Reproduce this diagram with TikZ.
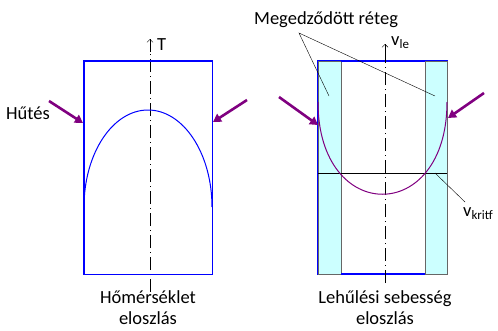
\documentclass[tikz,border=0pt]{standalone}
\usepackage{fontspec}
\setmainfont{Carlito}
\usetikzlibrary{arrows.meta}
\definecolor{hot}{RGB}{128,0,128}
\definecolor{layer}{RGB}{204,255,255}
\begin{document}
\begin{tikzpicture}[x=1pt,y=-1pt,
  lbl/.style={font=\fontsize{18.5}{21}\selectfont, inner sep=0pt},
  axisline/.style={black, thin, dash pattern=on 13pt off 4pt on 1pt off 4pt},
  coolarrow/.style={hot, line width=2.6pt, -{Triangle[length=8pt,width=9pt]}},
  body/.style={draw=blue, line width=1.3pt},
  strip/.style={fill=layer, draw=black!60, line width=0.8pt}]
\useasboundingbox (0,0) rectangle (498,330);
% ---------- left: temperature ----------
\node[draw=none, minimum width=128pt, minimum height=213pt, anchor=north west, inner sep=0pt] (L) at (84,61) {};
\coordinate (Lbot) at (150,292);
\coordinate (Ltop) at (150,39);
\draw[axisline] (Lbot) -- (150,49);
\draw[black, thin, -{Straight Barb[length=3pt]}] (150,52) -- (Ltop);
\draw[body] (L.north west) rectangle (L.south east);
\draw[blue, line width=1pt] (84,207) arc[start angle=180, end angle=0, x radius=64pt, y radius=97pt];
\node[lbl, anchor=west] (T) at (157,45) {T};
\node[lbl, anchor=west] (hut) at (6,113) {Hűtés};
\coordinate (la1) at (49,101);
\coordinate (la2) at (83,123);
\coordinate (ra1) at (247,100);
\coordinate (ra2) at (213,122);
\draw[coolarrow] (la1) -- (la2);
\draw[coolarrow] (ra1) -- (ra2);
\node[lbl, align=center, anchor=north] (Ltxt) at (148,290) {Hőmérséklet\\eloszlás};
% ---------- right: cooling rate ----------
\node[draw=none, minimum width=129pt, minimum height=213pt, anchor=north west, inner sep=0pt] (R) at (318,61) {};
\draw[blue, line width=1.3pt] (R.north west) rectangle (R.south east);
\draw[strip] (318,61) rectangle (341,274);
\draw[strip] (425,61) rectangle (447,274);
\draw[blue, line width=1.3pt] (341,61) -- (425,61) (341,274) -- (425,274);
\draw[axisline] (385,283) -- (385,54);
\draw[black, thin, -{Straight Barb[length=3pt]}] (385,57) -- (385,44);
\node[lbl, anchor=west] (vle) at (391,43) {v\textsubscript{le}};
\draw[black, line width=0.9pt] (318,173) -- (447,173);
\draw[hot, line width=1pt] (318,102) .. controls (318,225) and (447,225) .. (447,102);
\coordinate (rla1) at (279,97);
\coordinate (rla2) at (318,125);
\coordinate (rra1) at (484,93);
\coordinate (rra2) at (448,118);
\draw[coolarrow] (rla1) -- (rla2);
\draw[coolarrow] (rra1) -- (rra2);
\node[lbl, anchor=west] (meg) at (254,20) {Megedződött réteg};
\coordinate (m0) at (299,33);
\coordinate (m1) at (329,96);
\coordinate (m2) at (435,96);
\draw[black, thin] (m1) -- (m0) -- (m2);
\coordinate (k0) at (435,173);
\coordinate (k1) at (465,202);
\draw[black, thin] (k0) -- (k1);
\node[lbl, anchor=west] (vk) at (463,214) {v\textsubscript{kritf}};
\node[lbl, align=center, anchor=north] (Rtxt) at (385,290) {Lehűlési sebesség\\eloszlás};
\end{tikzpicture}
\end{document}
